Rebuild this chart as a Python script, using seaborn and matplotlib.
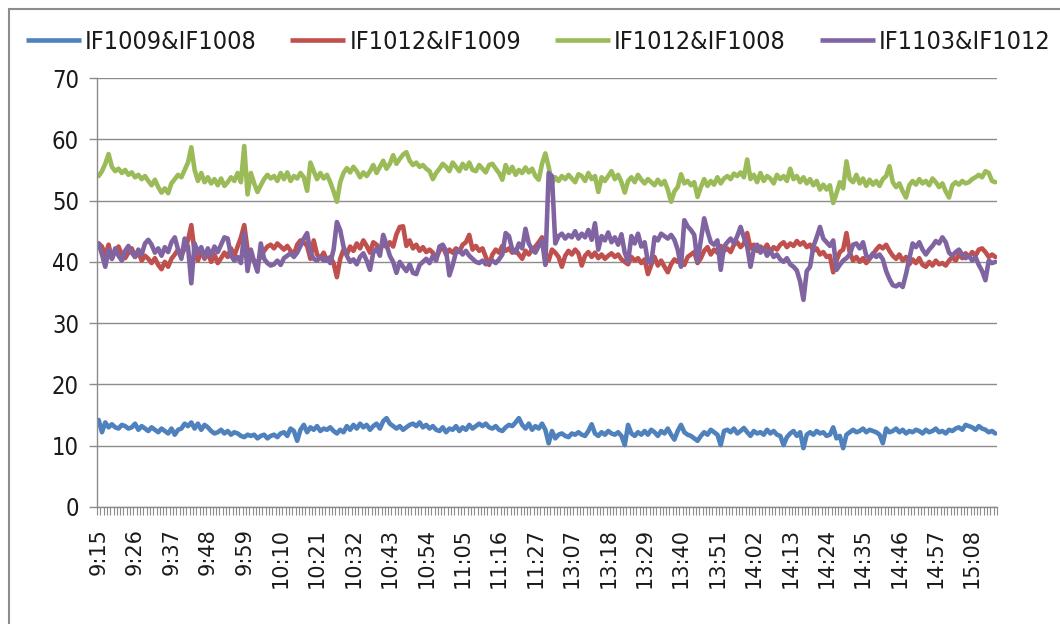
import numpy as np
import pandas as pd
import matplotlib
matplotlib.use("Agg")
import matplotlib.pyplot as plt
import seaborn as sns
from matplotlib.patches import Rectangle
from matplotlib.lines import Line2D
from matplotlib import font_manager as fm

SERIES = ["IF1009&IF1008", "IF1012&IF1009", "IF1012&IF1008", "IF1103&IF1012"]
COLORS = ["#4F81BD", "#C0504D", "#9BBB59", "#8064A2"]
TICK_LABELS = ["9:15", "9:26", "9:37", "9:48", "9:59", "10:10", "10:21", "10:32",
               "10:43", "10:54", "11:05", "11:16", "11:27", "13:07", "13:18", "13:29",
               "13:40", "13:51", "14:02", "14:13", "14:24", "14:35", "14:46", "14:57",
               "15:08"]
_morning = pd.date_range("2010-08-20 09:15", "2010-08-20 11:30", freq="min")
_afternoon = pd.date_range("2010-08-20 13:00", "2010-08-20 15:15", freq="min")
TIMES = [f"{t.hour}:{t.minute:02d}" for t in list(_morning) + list(_afternoon)]

IF1009_IF1008 = [
    14.2, 12.2, 13.8, 13.0, 13.5, 13.0, 12.8, 13.4, 13.2, 12.8,
    13.0, 13.6, 12.6, 13.2, 12.8, 12.4, 13.0, 12.6, 12.2, 12.8,
    12.4, 12.0, 12.8, 11.8, 12.6, 12.8, 13.6, 13.2, 13.8, 12.8,
    13.6, 12.6, 13.4, 13.0, 12.4, 12.0, 12.2, 12.6, 12.0, 12.4,
    11.8, 12.2, 12.0, 11.6, 11.4, 11.8, 11.6, 11.8, 11.2, 11.6,
    11.8, 11.2, 11.6, 11.8, 11.4, 12.0, 12.2, 11.6, 12.8, 12.4,
    10.8, 12.6, 13.4, 12.2, 13.0, 12.6, 13.2, 12.4, 12.8, 12.6,
    13.0, 12.4, 12.0, 12.6, 12.2, 13.2, 12.6, 13.4, 12.8, 13.6,
    13.0, 13.4, 12.6, 13.2, 13.6, 12.8, 14.0, 14.5, 13.6, 13.2,
    12.8, 13.2, 12.6, 13.0, 13.4, 13.6, 13.2, 13.8, 13.0, 13.4,
    12.8, 13.2, 12.6, 12.4, 13.0, 12.2, 12.8, 12.6, 13.2, 12.4,
    13.0, 12.6, 13.4, 12.8, 13.2, 13.6, 13.2, 13.6, 13.0, 12.8,
    13.2, 12.6, 12.4, 13.0, 13.4, 13.2, 13.8, 14.5, 13.4, 12.8,
    13.6, 12.6, 13.2, 12.8, 13.6, 12.6,
    10.4, 12.4, 11.2, 11.8, 12.0, 11.6, 11.4, 12.0, 11.8, 12.2,
    11.8, 11.6, 12.4, 13.5, 12.0, 11.6, 12.2, 11.8, 12.4, 12.0,
    11.8, 12.2, 11.6, 10.1, 13.4, 12.0, 11.6, 12.2, 11.8, 12.4,
    11.8, 12.6, 12.2, 11.6, 12.4, 12.0, 12.8, 11.8, 11.0, 12.4,
    13.4, 12.2, 11.8, 11.6, 11.2, 10.8, 11.6, 12.2, 11.8, 12.6,
    12.2, 11.8, 10.1, 12.4, 12.6, 12.2, 12.8, 12.0, 12.4, 12.9,
    12.2, 11.6, 12.4, 12.0, 12.2, 11.8, 12.6, 12.0, 12.4, 11.8,
    11.6, 10.1, 11.4, 12.0, 12.4, 11.6, 12.2, 9.6, 11.8, 12.2,
    11.8, 12.4, 12.0, 12.2, 11.6, 11.8, 13.0, 11.2, 11.6, 9.6,
    11.8, 12.2, 12.6, 12.2, 12.4, 12.8, 12.2, 12.6, 12.4, 12.2,
    11.8, 10.4, 12.8, 12.2, 12.4, 12.8, 12.2, 12.6, 12.0, 12.4,
    12.2, 12.6, 12.4, 12.0, 12.6, 12.2, 12.4, 12.8, 12.2, 12.4,
    12.0, 12.6, 12.4, 12.8, 13.0, 12.6, 13.4, 13.2, 13.0, 12.6,
    13.2, 12.8, 12.6, 12.2, 12.4, 12.0,
]

IF1012_IF1009 = [
    43.0, 42.5, 41.0, 42.8, 40.5, 41.8, 42.5, 41.2, 40.6, 41.5,
    42.2, 40.8, 41.6, 40.2, 41.0, 40.5, 39.8, 40.6, 39.5, 38.8,
    40.0, 39.2, 40.5, 41.2, 42.0, 41.0, 42.2, 43.5, 46.0, 41.5,
    40.2, 41.8, 40.5, 41.5, 40.0, 41.2, 39.8, 40.6, 41.5, 40.8,
    42.2, 41.0, 42.5, 44.0, 46.0, 42.0, 40.8, 40.2, 39.8, 41.0,
    41.8, 42.5, 42.8, 42.2, 43.0, 42.5, 42.0, 42.6, 41.8, 41.2,
    42.8, 43.5, 43.2, 42.6, 40.5, 43.5, 41.2, 40.6, 41.5, 40.2,
    40.8, 39.8, 37.5, 40.5, 42.0, 41.2, 42.5, 41.8, 43.0, 42.2,
    43.5, 42.6, 41.5, 43.2, 42.8, 42.0, 43.0, 42.4, 43.2, 42.5,
    44.5, 45.7, 45.8, 42.6, 43.5, 42.2, 42.8, 41.8, 42.4, 41.6,
    42.0, 41.5, 40.6, 41.8, 42.5, 41.2, 42.0, 41.5, 42.2, 41.6,
    42.8, 43.2, 44.4, 42.0, 42.6, 41.8, 42.2, 40.8, 39.5, 41.2,
    42.0, 41.5, 42.6, 41.8, 42.2, 41.5, 42.0, 41.2, 40.5, 41.8,
    41.2, 42.0, 42.5, 43.2, 44.0, 41.5,
    40.2, 42.0, 41.5, 40.8, 39.2, 41.0, 41.8, 41.2, 42.0, 41.4,
    39.4, 41.0, 41.6, 40.8, 41.5, 40.6, 41.2, 40.5, 41.0, 41.4,
    40.8, 41.2, 40.4, 40.0, 39.6, 40.8, 40.2, 40.6, 39.8, 40.4,
    38.0, 39.5, 40.8, 39.4, 40.2, 39.2, 38.3, 39.6, 40.4, 40.0,
    40.2, 39.5, 40.8, 41.2, 41.6, 39.8, 40.6, 41.8, 42.4, 41.2,
    42.0, 41.5, 42.6, 41.8, 42.2, 41.6, 42.8, 43.2, 42.4, 43.0,
    44.7, 42.2, 42.8, 41.8, 42.5, 42.0, 42.8, 41.6, 42.4, 42.0,
    42.8, 43.2, 42.4, 43.0, 42.6, 43.4, 42.8, 43.2, 42.4, 42.8,
    41.8, 42.2, 41.2, 41.6, 40.8, 41.0, 38.3, 40.2, 41.6, 42.0,
    44.7, 41.5, 40.2, 40.8, 40.0, 40.6, 39.8, 40.5, 41.2, 42.0,
    42.6, 42.2, 42.8, 41.8, 41.0, 40.5, 41.2, 40.2, 40.8, 39.6,
    40.4, 39.8, 40.6, 39.5, 39.2, 40.0, 39.4, 40.2, 39.6, 39.8,
    39.4, 40.2, 40.8, 40.2, 41.2, 40.6, 41.4, 40.8, 41.6, 41.0,
    42.0, 42.2, 41.6, 40.8, 41.2, 40.8,
]

IF1012_IF1008 = [
    54.0, 54.8, 56.0, 57.6, 55.5, 54.8, 55.2, 54.5, 55.0, 54.2,
    54.6, 53.8, 54.2, 53.5, 54.0, 53.2, 52.5, 53.4, 52.2, 51.3,
    52.0, 51.2, 52.8, 53.5, 54.2, 53.8, 55.0, 56.2, 58.7, 55.0,
    53.2, 54.5, 53.0, 53.8, 52.8, 53.5, 52.5, 53.6, 52.4, 53.0,
    53.8, 53.2, 54.5, 53.0, 58.9, 51.0, 54.5, 52.8, 51.4, 52.5,
    53.5, 54.2, 53.6, 54.0, 53.2, 54.5, 53.5, 54.6, 53.2, 54.0,
    53.6, 54.5, 53.8, 51.6, 56.2, 54.8, 53.5, 54.5, 53.6, 54.2,
    53.0, 51.5, 49.8, 53.0, 54.5, 55.3, 54.6, 55.5, 54.8, 53.8,
    54.6, 54.0, 54.8, 55.8, 54.5, 55.5, 56.5, 55.2, 56.0, 57.4,
    56.0, 56.8, 57.5, 57.9, 56.5, 55.8, 56.2, 55.5, 55.8, 55.2,
    54.8, 53.5, 54.5, 55.2, 56.0, 55.5, 54.8, 56.2, 55.5, 54.8,
    56.0, 55.2, 56.2, 55.0, 54.8, 55.8, 55.2, 54.6, 55.8, 56.0,
    55.2, 54.5, 53.4, 55.8, 54.5, 55.5, 54.2, 55.0, 54.5, 55.4,
    54.6, 55.2, 54.0, 53.4, 56.0, 57.7,
    55.5, 52.8, 53.8, 53.2, 54.0, 53.5, 54.2, 53.6, 53.0, 54.3,
    54.0, 53.2, 54.5, 53.5, 54.0, 51.4, 53.8, 53.2, 54.0, 54.8,
    53.5, 54.2, 53.0, 51.3, 53.2, 53.8, 53.0, 54.2, 53.4, 52.8,
    53.5, 53.0, 52.5, 53.4, 52.6, 53.2, 51.8, 49.8, 51.5, 52.2,
    54.3, 52.8, 53.2, 52.5, 53.0, 50.6, 52.2, 53.5, 52.4, 53.2,
    52.6, 53.8, 52.8, 53.6, 54.0, 53.5, 54.4, 54.0, 54.6, 53.8,
    56.7, 53.5, 54.2, 53.0, 54.5, 53.2, 54.0, 53.6, 52.8, 54.2,
    53.5, 54.0, 53.2, 55.2, 53.5, 54.0, 53.0, 53.8, 52.8, 53.5,
    52.5, 53.2, 51.8, 52.6, 51.8, 52.5, 49.6, 51.2, 53.0, 52.0,
    56.4, 53.5, 53.0, 54.2, 52.8, 53.6, 52.4, 53.4, 52.6, 53.2,
    52.4, 53.5, 54.0, 55.6, 53.0, 52.2, 52.8, 51.5, 50.5, 52.5,
    53.2, 52.6, 53.5, 52.8, 53.2, 52.5, 53.6, 53.0, 52.2, 52.8,
    51.5, 50.5, 52.5, 53.0, 52.6, 53.2, 52.8, 53.0, 53.5, 53.8,
    54.2, 53.8, 54.8, 54.5, 53.2, 53.0,
]

IF1103_IF1012 = [
    43.0, 41.2, 39.2, 42.0, 40.5, 42.2, 41.0, 40.2, 41.8, 42.6,
    41.5, 40.8, 42.0, 41.2, 43.0, 43.6, 42.8, 41.5, 42.2, 41.0,
    42.4, 41.6, 43.2, 44.0, 42.0, 40.5, 43.8, 42.5, 36.5, 43.0,
    41.5, 42.4, 40.8, 42.2, 41.0, 42.5, 41.6, 42.8, 44.0, 43.8,
    41.0, 40.2, 40.8, 39.8, 44.7, 38.5, 42.0, 40.0, 38.4, 43.0,
    40.5, 39.8, 39.4, 39.6, 40.2, 39.5, 40.6, 41.0, 41.4, 40.8,
    41.5, 42.6, 43.8, 44.7, 41.5, 40.5, 40.2, 40.8, 40.2, 40.6,
    39.8, 42.0, 46.5, 45.2, 42.5, 41.0, 40.0, 40.4, 39.6, 40.8,
    41.4, 40.2, 38.7, 41.5, 42.2, 41.0, 44.4, 42.8, 41.0, 40.0,
    38.2, 40.0, 39.2, 38.5, 39.6, 38.2, 38.0, 39.5, 40.0, 40.5,
    39.8, 41.0, 40.2, 42.5, 42.8, 41.8, 37.8, 39.5, 41.6, 42.0,
    41.2, 41.8, 41.0, 40.5, 40.0, 39.8, 40.2, 39.6, 40.0, 40.2,
    39.8, 40.4, 41.2, 44.7, 44.2, 42.0, 41.5, 43.0, 42.2, 45.4,
    43.0, 42.0, 41.5, 42.6, 43.5, 39.5,
    54.5, 54.0, 43.0, 44.2, 44.6, 43.8, 44.4, 44.0, 45.0, 43.8,
    44.6, 44.0, 45.2, 43.6, 46.3, 42.0, 44.2, 43.5, 44.8, 43.2,
    44.0, 42.8, 44.5, 41.5, 40.0, 44.2, 43.0, 44.6, 42.5, 43.2,
    40.0, 39.8, 44.0, 43.5, 44.6, 44.2, 43.8, 44.4, 43.6, 42.0,
    39.2, 46.8, 45.8, 45.2, 44.4, 40.0, 43.5, 47.1, 45.0, 43.2,
    42.8, 43.5, 38.7, 42.5, 43.2, 43.8, 43.0, 44.2, 45.7, 44.0,
    42.5, 39.2, 42.0, 42.8, 41.5, 42.2, 41.0, 41.8, 40.8, 41.2,
    40.4, 40.0, 40.6, 39.6, 39.2, 38.6, 36.8, 33.8, 38.5, 39.2,
    42.5, 44.0, 45.7, 43.8, 43.2, 42.6, 43.5, 38.7, 39.5, 40.2,
    40.6, 41.2, 42.8, 43.0, 42.2, 43.2, 41.0, 40.6, 41.4, 40.8,
    41.2, 40.4, 38.5, 37.2, 36.2, 36.0, 36.4, 35.9, 38.0, 40.5,
    43.0, 42.4, 43.2, 42.0, 41.2, 42.0, 42.6, 43.4, 43.0, 44.0,
    43.2, 41.5, 41.0, 41.6, 42.0, 41.2, 40.6, 41.0, 40.2, 40.8,
    39.5, 38.5, 37.0, 40.2, 39.8, 40.0,
]

VALUES = [IF1009_IF1008, IF1012_IF1009, IF1012_IF1008, IF1103_IF1012]

frames = []
for name, vals in zip(SERIES, VALUES):
    n = min(len(vals), len(TIMES))
    frames.append(pd.DataFrame({"pos": np.arange(n), "time": TIMES[:n],
                                "value": vals[:n], "series": name}))
df = pd.concat(frames, ignore_index=True)

sns.set_style("white")
plt.rcParams["font.family"] = ["DejaVu Sans"]
plt.rcParams["font.stretch"] = "normal"

_cond = fm.FontProperties(family="DejaVu Sans", stretch="condensed")
_has_cond = "ondensed" in fm.findfont(_cond, fallback_to_default=True)
if _has_cond:
    LEG_PROP = fm.FontProperties(family="DejaVu Sans", stretch="condensed", size=18)
    YT_PROP = fm.FontProperties(family="DejaVu Sans", stretch="condensed", size=17)
else:
    LEG_PROP = fm.FontProperties(family="DejaVu Sans", size=16)
    YT_PROP = fm.FontProperties(family="DejaVu Sans", size=15)
XT_PROP = fm.FontProperties(family="DejaVu Sans", stretch="normal", size=15)
leg_px = LEG_PROP.get_size_in_points() * 100 / 72

W, H = 1060, 624
fig = plt.figure(figsize=(W / 100, H / 100), dpi=100)
fig.patch.set_facecolor("white")

L, R, T, B = 97, 997, 78, 507
ax = fig.add_axes([L / W, 1 - B / H, (R - L) / W, (B - T) / H])

sns.lineplot(data=df, x="pos", y="value", hue="series", hue_order=SERIES,
             palette=COLORS, linewidth=3.3, ax=ax, legend=False, sort=False,
             estimator=None)
for ln in ax.get_lines():
    ln.set_solid_joinstyle("round")
    ln.set_solid_capstyle("round")

n_cat = len(TIMES)
ax.set_xlim(-0.5, n_cat - 0.5)
ax.set_ylim(0, 70)
ax.set_yticks(np.arange(0, 71, 10))
ax.yaxis.grid(True, color="#8c8c8c", linewidth=1.0)
ax.xaxis.grid(False)
ax.set_axisbelow(True)
ax.set_xlabel("")
ax.set_ylabel("")

for s in ["top", "right"]:
    ax.spines[s].set_visible(False)
for s in ["left", "bottom"]:
    ax.spines[s].set_color("#8c8c8c")
    ax.spines[s].set_linewidth(1.0)

tick_pos = [TIMES.index(t) for t in TICK_LABELS]
ax.set_xticks(tick_pos)
ax.set_xticklabels(TICK_LABELS, rotation=90, va="top", ha="center")
for lab in ax.get_xticklabels():
    lab.set_fontproperties(XT_PROP)
    lab.set_color("#1a1a1a")
ax.set_xticks(np.arange(-0.5, n_cat, 1.0), minor=True)
ax.tick_params(axis="x", which="major", length=0, pad=15)
ax.tick_params(axis="x", which="minor", length=6, color="#8c8c8c", width=0.8,
               direction="out", bottom=True)
ax.tick_params(axis="y", which="major", length=6, color="#8c8c8c", width=1.0,
               direction="out", left=True, pad=7)
for lab in ax.get_yticklabels():
    lab.set_fontproperties(YT_PROP)
    lab.set_color("#1a1a1a")

handles = [Line2D([0], [0], color=c, lw=3.3, solid_capstyle="butt") for c in COLORS]
fig.legend(handles, SERIES, loc="center", bbox_to_anchor=(0.5 + 8 / W, 1 - 42 / H),
           ncol=4, frameon=False, handlelength=55 / leg_px,
           handletextpad=4 / leg_px, columnspacing=34 / leg_px,
           borderpad=0, borderaxespad=0, prop=LEG_PROP, labelcolor="#1a1a1a")

fig.patches.append(Rectangle((9 / W, -0.1), 1.2, 1 - 9 / H + 0.1, fill=False,
                             edgecolor="#8c8c8c", linewidth=1.5,
                             transform=fig.transFigure, figure=fig))

fig.savefig("out.png", dpi=100, facecolor="white")
